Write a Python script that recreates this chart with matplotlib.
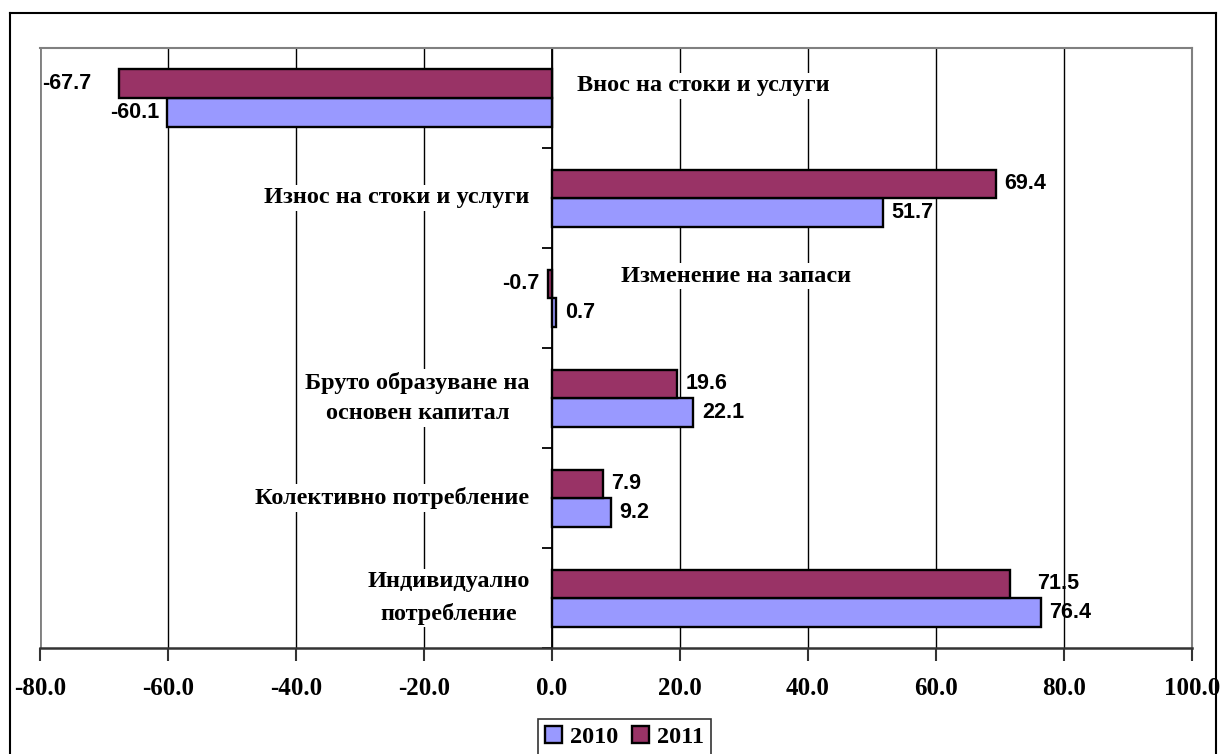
import numpy as np
import matplotlib
matplotlib.use("Agg")
import matplotlib.pyplot as plt
from matplotlib.lines import Line2D

# data (bottom to top as drawn)
categories = ["Индивидуално\nпотребление",
              "Колективно потребление",
              "Бруто образуване на\nосновен капитал",
              "Изменение на запаси",
              "Износ на стоки и услуги",
              "Внос на стоки и услуги"]
vals_2010 = [76.4, 9.2, 22.1, 0.7, 51.7, -60.1]
vals_2011 = [71.5, 7.9, 19.6, -0.7, 69.4, -67.7]
series_names = ["2010", "2011"]
x_ticks = [-80, -60, -40, -20, 0, 20, 40, 60, 80, 100]

col_2010 = "#9999FF"
col_2011 = "#993366"
serif = "Liberation Serif"
sans = "Liberation Sans"

W, H = 1221, 754
fig = plt.figure(figsize=(W / 100, H / 100), dpi=100)
ax = fig.add_axes([40 / W, (H - 648) / H, (1192 - 40) / W, (648 - 48) / H])

y = np.arange(len(categories))
bh = 0.285
ax.barh(y - bh / 2, vals_2010, height=bh, color=col_2010, edgecolor="black",
        linewidth=1.7, zorder=3, label=series_names[0])
ax.barh(y + bh / 2, vals_2011, height=bh, color=col_2011, edgecolor="black",
        linewidth=1.7, zorder=3, label=series_names[1])

ax.set_xlim(-80, 100)
ax.set_ylim(-0.5, len(categories) - 0.5)

# value labels
def put_label(v, yy, extra=0):
    off = 6 + extra
    if v >= 0:
        ax.annotate(f"{v:.1f}", (v, yy), xytext=(off, 0), textcoords="offset points",
                    ha="left", va="center", fontsize=15.5, fontweight="bold",
                    family=sans, zorder=5)
    else:
        ax.annotate(f"{v:.1f}", (v, yy), xytext=(-off, 0), textcoords="offset points",
                    ha="right", va="center", fontsize=15.5, fontweight="bold",
                    family=sans, zorder=5)

for i in range(len(categories)):
    put_label(vals_2010[i], y[i] - bh / 2)
    put_label(vals_2011[i], y[i] + bh / 2, extra=14 if i in (0, 5) else 0)

# category labels placed next to the bars
label_pos = [(-3.5, 0.0, "right"), (-3.5, 0.0, "right"), (-3.5, 0.0, "right"),
             (10.8, 0.22, "left"), (-3.5, 0.0, "right"), (3.9, 0.12, "left")]
for i, (lx, dy, ha) in enumerate(label_pos):
    ax.text(lx, y[i] + dy, categories[i], ha=ha, va="center", multialignment="center",
            fontsize=17.5, fontweight="bold", family=serif, linespacing=1.6, zorder=4,
            bbox=dict(facecolor="white", edgecolor="none", pad=2))

# x axis
ax.set_xticks(x_ticks)
ax.set_xticklabels([f"{t:.1f}" for t in x_ticks], fontsize=18, fontweight="bold",
                   family=serif)
ax.tick_params(axis="x", direction="out", length=9, width=1.5, color="#333333", pad=12)
ax.xaxis.grid(True, color="black", linewidth=1.0, zorder=0)
ax.set_axisbelow(True)

# y axis sits at zero
ax.spines["left"].set_position(("data", 0))
ax.spines["left"].set_color("black")
ax.spines["left"].set_linewidth(1.3)
ax.spines["left"].set_zorder(2.5)
ax.set_yticks(np.arange(-0.5, len(categories), 1.0))
ax.set_yticklabels([])
ax.tick_params(axis="y", direction="out", length=7, width=1.3, color="black")

for s in ["top", "right"]:
    ax.spines[s].set_color("#808080")
    ax.spines[s].set_linewidth(1.5)
ax.spines["bottom"].set_color("#333333")
ax.spines["bottom"].set_linewidth(1.8)
ax.axvline(-80, color="#808080", linewidth=2.0, zorder=2)

# legend
leg = fig.legend(loc="center", bbox_to_anchor=((539 + 710) / 2 / W, (H - 737) / H),
                 ncol=2, frameon=True, fancybox=False, handlelength=0.7,
                 handleheight=0.7, handletextpad=0.3, columnspacing=0.6,
                 borderpad=0.3, prop=dict(family=serif, weight="bold", size=17.5))
leg.get_frame().set_edgecolor("black")
leg.get_frame().set_linewidth(1.2)

# outer border of the chart
for xs, ys in [([10, 10], [-5, H - 13]), ([10, 1216], [H - 13, H - 13]),
               ([1216, 1216], [-5, H - 13])]:
    fig.add_artist(Line2D([v / W for v in xs], [v / H for v in ys],
                          color="black", linewidth=1.5))

fig.savefig("out.png", dpi=100)
